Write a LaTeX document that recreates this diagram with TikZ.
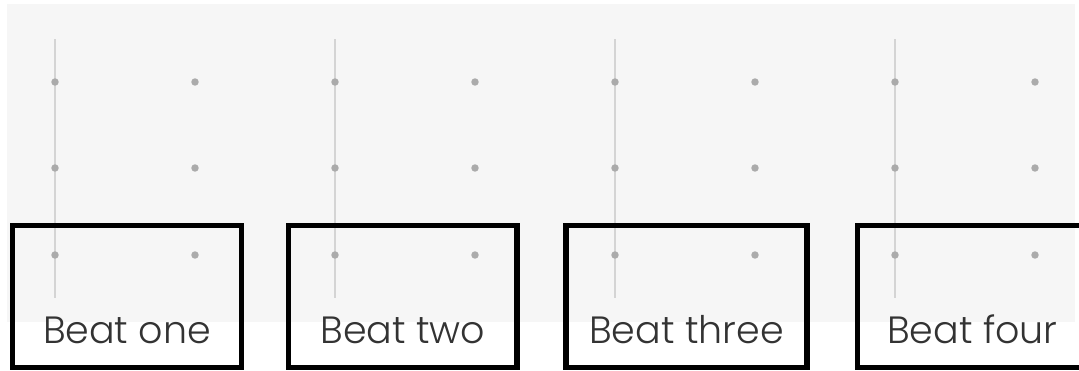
\documentclass[tikz,border=0pt]{standalone}
\usepackage{fontspec}
\setmainfont{Poppins}[UprightFont={* Light}]
\definecolor{panelgray}{HTML}{F6F6F6}
\definecolor{guidegray}{HTML}{D4D4D4}
\definecolor{dotgray}{HTML}{ABABAB}
\definecolor{labelgray}{HTML}{333333}
\usetikzlibrary{positioning}

\begin{document}
\begin{tikzpicture}[x=0.75pt, y=-0.75pt,
    panel/.style={fill=panelgray},
    guide/.style={draw=guidegray, line width=1.5pt},
    dot/.style={fill=dotgray},
    beatbox/.style={draw=black, line width=4pt, minimum height=106.5pt, inner sep=0pt},
    beatlabel/.style={anchor=base, text=labelgray, font=\fontsize{28.5}{34}\selectfont, inner sep=0pt}
  ]
    \useasboundingbox (0,0) rectangle (1079,371);
    \fill[panel] (7,4) rectangle (1075,322);
    % beat guides and grid points
    \foreach \x in {55,335,615,895}
      \draw[guide] (\x,39) -- (\x,298);
    \foreach \x in {55,195,335,475,615,755,895,1035}
      \foreach \y in {82,168,255}
        \fill[dot] (\x,\y) circle[radius=2.8pt];
    % beat boxes
    \node[beatbox, minimum width=171.75pt] (one) at (127,296.5) {};
    \node[beatbox, minimum width=171.4pt] (two) at (402.75,296.5) {};
    \node[beatbox, minimum width=180.75pt] (three) at (686.5,296.5) {};
    \node[beatbox, minimum width=172.5pt] (four) at (972.5,296.5) {};
    \node[beatlabel] (onelabel) at (one.center |- 0,343) {Beat one};
    \node[beatlabel] (twolabel) at (two.center |- 0,343) {Beat two};
    \node[beatlabel] (threelabel) at (three.center |- 0,343) {Beat three};
    \node[beatlabel] (fourlabel) at (four.center |- 0,343) {Beat four};
  \end{tikzpicture}
\end{document}
